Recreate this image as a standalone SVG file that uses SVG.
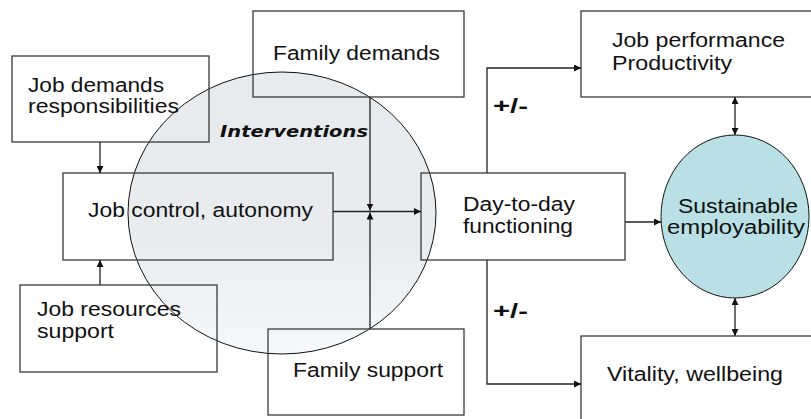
<svg xmlns="http://www.w3.org/2000/svg" width="811" height="419" viewBox="0 0 811 419">
<style>
.box{fill:none;stroke:#3a3a3a;stroke-width:1.3}
.t{font-family:"Liberation Sans",Arial,sans-serif;font-size:19.5px;fill:#111}
.b{font-weight:bold;font-size:21px}
.iv{font-family:"DejaVu Sans","Liberation Sans",sans-serif;font-size:16px;font-weight:bold;font-style:italic;fill:#111}
.c{fill:none;stroke:#222;stroke-width:1.3}
</style>
<defs>
<linearGradient id="g" x1="0" y1="0" x2="0" y2="1">
<stop offset="0" stop-color="#E7EBED"/>
<stop offset="0.6" stop-color="#E8ECEE"/>
<stop offset="1" stop-color="#F5F9FB"/>
</linearGradient>
<marker id="a" viewBox="0 0 10 10" refX="10" refY="5" markerWidth="7" markerHeight="7" markerUnits="userSpaceOnUse" orient="auto-start-reverse">
<path d="M0,0 L10,5 L0,10 z" fill="#111"/>
</marker>
</defs>
<rect width="811" height="419" fill="#fff"/>
<g id="interventions">
<ellipse cx="282" cy="213" rx="154" ry="141" fill="url(#g)" stroke="#111" stroke-width="1"/>
<text class="iv" x="220" y="137" textLength="148" lengthAdjust="spacingAndGlyphs">Interventions</text>
</g>
<g id="job-demands">
<rect class="box" x="12" y="56" width="197" height="86"/>
<text class="t" x="28" y="92" textLength="136" lengthAdjust="spacingAndGlyphs">Job demands</text>
<text class="t" x="28" y="113" textLength="151" lengthAdjust="spacingAndGlyphs">responsibilities</text>
</g>
<g id="family-demands">
<rect class="box" x="253" y="11" width="211" height="86"/>
<text class="t" x="273" y="60" textLength="167" lengthAdjust="spacingAndGlyphs">Family demands</text>
</g>
<g id="job-control">
<rect class="box" x="63" y="173" width="270" height="87"/>
<text class="t" x="88" y="217" textLength="225" lengthAdjust="spacingAndGlyphs">Job control, autonomy</text>
</g>
<g id="job-resources">
<rect class="box" x="20" y="285" width="197" height="87"/>
<text class="t" x="37" y="316" textLength="144" lengthAdjust="spacingAndGlyphs">Job resources</text>
<text class="t" x="37" y="338" textLength="77" lengthAdjust="spacingAndGlyphs">support</text>
</g>
<g id="family-support">
<rect class="box" x="268" y="329" width="196" height="86"/>
<text class="t" x="293" y="377" textLength="150" lengthAdjust="spacingAndGlyphs">Family support</text>
</g>
<g id="day-to-day">
<rect class="box" x="421" y="173" width="204" height="87"/>
<text class="t" x="463" y="211" textLength="112" lengthAdjust="spacingAndGlyphs">Day-to-day</text>
<text class="t" x="463" y="233" textLength="110" lengthAdjust="spacingAndGlyphs">functioning</text>
</g>
<g id="job-performance">
<rect class="box" x="581" y="11" width="240" height="86"/>
<text class="t" x="612" y="47" textLength="173" lengthAdjust="spacingAndGlyphs">Job performance</text>
<text class="t" x="612" y="70" textLength="120" lengthAdjust="spacingAndGlyphs">Productivity</text>
</g>
<g id="vitality">
<rect class="box" x="581" y="336" width="240" height="100"/>
<text class="t" x="607" y="381" textLength="176" lengthAdjust="spacingAndGlyphs">Vitality, wellbeing</text>
</g>
<g id="sustainable">
<ellipse cx="735" cy="216.5" rx="74" ry="81.5" fill="#B9E0E4" stroke="#111" stroke-width="1"/>
<text class="t" x="678" y="213" textLength="120" lengthAdjust="spacingAndGlyphs">Sustainable</text>
<text class="t" x="667" y="234" textLength="138" lengthAdjust="spacingAndGlyphs">employability</text>
</g>
<g id="connectors">
<path class="c" d="M100,142 V173" marker-end="url(#a)"/>
<path class="c" d="M100,285 V260" marker-end="url(#a)"/>
<path class="c" d="M333,211.5 H421" marker-end="url(#a)"/>
<path class="c" d="M370,97 V210.5" marker-end="url(#a)"/>
<path class="c" d="M370,329 V212.5" marker-end="url(#a)"/>
<path class="c" d="M487,173 V68 H581" marker-end="url(#a)"/>
<path class="c" d="M487,260 V384 H581" marker-end="url(#a)"/>
<path class="c" d="M625,222 H661" marker-end="url(#a)"/>
<path class="c" d="M735,97 V135" marker-start="url(#a)" marker-end="url(#a)"/>
<path class="c" d="M735,298 V336" marker-start="url(#a)" marker-end="url(#a)"/>
<text class="t b" x="493" y="113" textLength="35" lengthAdjust="spacingAndGlyphs">+/-</text>
<text class="t b" x="493" y="318" textLength="35" lengthAdjust="spacingAndGlyphs">+/-</text>
</g>
</svg>
